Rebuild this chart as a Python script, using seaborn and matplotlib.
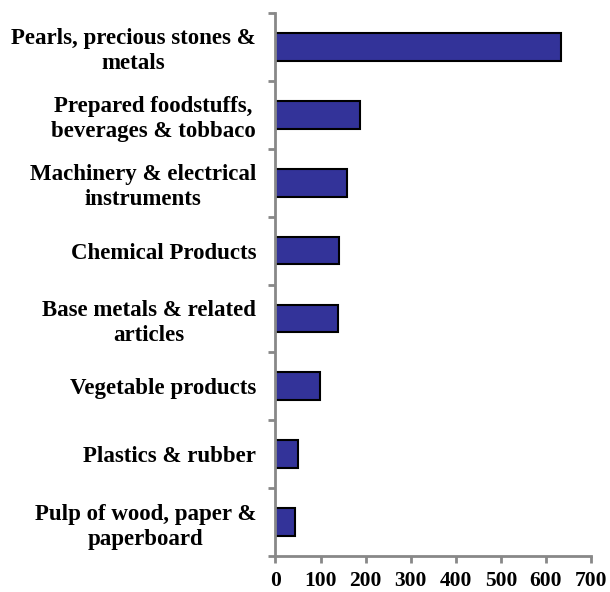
import pandas as pd
import matplotlib.pyplot as plt
import seaborn as sns

categories = ['Pearls, precious stones &\nmetals',
              'Prepared foodstuffs,\nbeverages & tobbaco',
              'Machinery & electrical\ninstruments',
              'Chemical Products',
              'Base metals & related\narticles',
              'Vegetable products',
              'Plastics & rubber',
              'Pulp of wood, paper &\npaperboard']
values = [633, 187, 159, 140, 139, 99, 51, 44]
xticks = [0, 100, 200, 300, 400, 500, 600, 700]

df = pd.DataFrame({'category': categories, 'value': values})

sns.set_style('white')
plt.rcParams['font.family'] = ['Liberation Serif', 'DejaVu Serif']
plt.rcParams['font.weight'] = 'bold'
plt.rcParams['text.color'] = 'black'
plt.rcParams['xtick.labelcolor'] = 'black'
plt.rcParams['ytick.labelcolor'] = 'black'

fig = plt.figure(figsize=(6.1, 5.92), dpi=100)
ax = fig.add_axes([0.4516, 0.0608, 0.9689 - 0.4516, 0.978 - 0.0608])

sns.barplot(data=df, x='value', y='category', orient='h', color='#333399',
            saturation=1, width=0.41, edgecolor='black', linewidth=1.5, ax=ax)

ax.set_xlim(0, 700)
ax.set_ylim(len(categories) - 0.5, -0.5)
ax.set_xticks(xticks)
ax.set_xticklabels([str(t) for t in xticks], fontsize=15.5, fontweight='bold')
ax.set_yticks(range(len(categories)))
ax.set_yticklabels(categories, fontsize=16.5, fontweight='bold',
                   multialignment='center', linespacing=1.25)
ax.set_yticks([i - 0.5 for i in range(len(categories) + 1)], minor=True)
ax.tick_params(axis='y', which='major', length=0, pad=14)
ax.tick_params(axis='y', which='minor', length=5, width=2, color='#888888', left=True)
ax.tick_params(axis='x', which='major', length=5, width=2, color='#888888', bottom=True, pad=6)
ax.set_xlabel('')
ax.set_ylabel('')

for side in ['top', 'right']:
    ax.spines[side].set_visible(False)
for side in ['left', 'bottom']:
    ax.spines[side].set_color('#888888')
    ax.spines[side].set_linewidth(2)

fig.savefig('out.png', dpi=100)
